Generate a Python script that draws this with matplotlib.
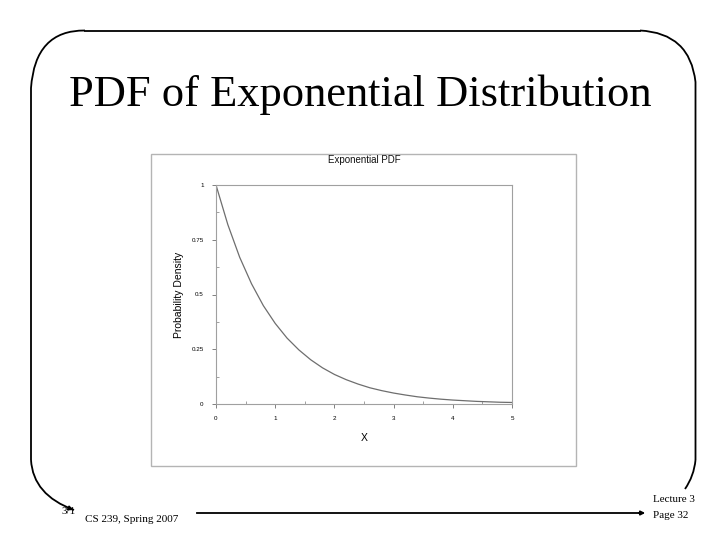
import numpy as np
import matplotlib
matplotlib.use("Agg")
import matplotlib.pyplot as plt
from matplotlib.patches import Rectangle
from matplotlib.path import Path
from matplotlib.patches import PathPatch

# Data
x_vals = [0.0, 0.2, 0.4, 0.6, 0.8, 1.0, 1.2, 1.4, 1.6, 1.8, 2.0, 2.2, 2.4, 2.6,
          2.8, 3.0, 3.2, 3.4, 3.6, 3.8, 4.0, 4.2, 4.4, 4.6, 4.8, 5.0]
pdf_vals = [1.000, 0.819, 0.670, 0.549, 0.449, 0.368, 0.301, 0.247, 0.202, 0.165,
            0.135, 0.111, 0.091, 0.074, 0.061, 0.050, 0.041, 0.033, 0.027, 0.022,
            0.018, 0.015, 0.012, 0.010, 0.008, 0.007]
x_ticks = [0, 1, 2, 3, 4, 5]
y_ticks = [0, 0.25, 0.5, 0.75, 1]
y_tick_labels = ["0", "0.25", "0.5", "0.75", "1"]

W, H = 720, 540
fig = plt.figure(figsize=(7.2, 5.4), dpi=100)
fig.patch.set_facecolor("white")

# Slide overlay axes in pixel coordinates
bg = fig.add_axes([0, 0, 1, 1])
bg.set_xlim(0, W)
bg.set_ylim(H, 0)
bg.axis("off")

lw = 1.3
bg.plot([197, 642], [513, 513], color="black", lw=lw)
bg.annotate("", xy=(648, 513), xytext=(636, 513),
            arrowprops=dict(arrowstyle="-|>", color="black", lw=lw, mutation_scale=6))
top = Path([(31, 460), (31, 88), (35, 30), (85, 30.5)],
           [Path.MOVETO, Path.LINETO, Path.CURVE3, Path.CURVE3])
bg.add_patch(PathPatch(top, fill=False, lw=lw, color="black"))
bg.plot([85, 640], [30.5, 30.5], color="black", lw=lw)
tr = Path([(640, 30.5), (690, 33), (695.5, 82), (695.5, 460)],
          [Path.MOVETO, Path.CURVE3, Path.CURVE3, Path.LINETO])
bg.add_patch(PathPatch(tr, fill=False, lw=lw, color="black"))
bl = Path([(31, 460), (33, 495), (74, 510)],
          [Path.MOVETO, Path.CURVE3, Path.CURVE3])
bg.add_patch(PathPatch(bl, fill=False, lw=lw, color="black"))
bg.annotate("", xy=(76, 511), xytext=(66, 507),
            arrowprops=dict(arrowstyle="-|>", color="black", lw=lw, mutation_scale=6))
br = Path([(695.5, 460), (694, 476), (685, 489)],
          [Path.MOVETO, Path.CURVE3, Path.CURVE3])
bg.add_patch(PathPatch(br, fill=False, lw=lw, color="black"))

serif = "Liberation Serif"
bg.text(360, 95, "PDF of Exponential Distribution", ha="center", va="center",
        fontsize=32, family=serif, color="black")
bg.text(62, 511, "3/1", ha="left", va="center", fontsize=8, family=serif, color="black")
bg.text(85, 520, "CS 239, Spring 2007", ha="left", va="center", fontsize=8,
        family=serif, color="black")
bg.text(653, 500, "Lecture 3", ha="left", va="center", fontsize=8, family=serif, color="black")
bg.text(653, 515, "Page 32", ha="left", va="center", fontsize=8, family=serif, color="black")

# Embedded chart image border
bg.add_patch(Rectangle((151, 154), 425, 312, fill=False, ec="#b4b4b4", lw=1))
bg.text(364, 160, "Exponential PDF", ha="center", va="center", fontsize=7,
        family="Liberation Sans", color="#111111")

# Plot axes
ax = fig.add_axes([216 / W, 1 - 404 / H, 296 / W, 219 / H])
ax.plot(x_vals, pdf_vals, color="#6e6e6e", lw=0.9)
ax.set_xlim(0, 5)
ax.set_ylim(0, 1)
ax.set_xticks(x_ticks)
ax.set_xticklabels([str(t) for t in x_ticks])
ax.set_yticks(y_ticks)
ax.set_yticklabels(y_tick_labels)
ax.set_xticks(np.arange(0.5, 5, 1.0), minor=True)
ax.set_yticks(np.arange(0.125, 1, 0.25), minor=True)
for s in ax.spines.values():
    s.set_color("#a0a0a0")
    s.set_linewidth(0.8)
ax.tick_params(which="major", direction="out", length=3, width=0.7, color="#808080",
               labelsize=4.5, pad=6)
ax.tick_params(which="minor", direction="in", length=2, width=0.6, color="#909090")
for lab in ax.get_xticklabels() + ax.get_yticklabels():
    lab.set_family("Liberation Sans")
ax.set_xlabel("X", fontsize=7.5, family="Liberation Sans", labelpad=8)
ax.set_ylabel("Probability Density", fontsize=7.5, family="Liberation Sans", labelpad=5)

fig.savefig("out.png", dpi=100)
